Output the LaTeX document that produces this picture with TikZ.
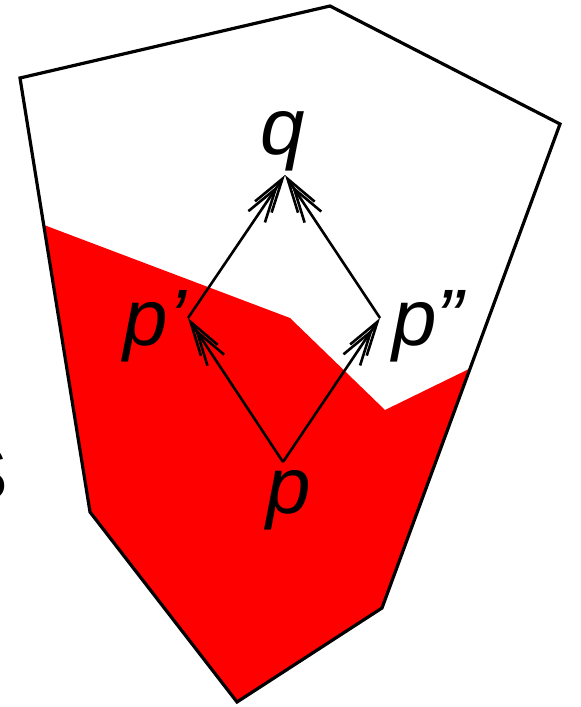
\documentclass[tikz,border=0pt]{standalone}
\usepackage{fontspec}
\setmainfont{Liberation Sans}
\usetikzlibrary{positioning,arrows.meta}
\definecolor{RegionRed}{RGB}{255,0,0}
\tikzset{
  outline/.style={draw=black,line width=3.2pt,line join=miter},
  flow/.style={-{Straight Barb[length=34pt,width=20pt,sep=-28pt]Straight Barb[length=34pt,width=20pt]},
    line width=2.6pt,draw=black},
  ptlabel/.style={font=\fontsize{80}{86}\selectfont\itshape,inner sep=0pt},
  setlabel/.style={font=\fontsize{76}{80}\selectfont,inner sep=0pt}
}
\begin{document}
\begin{tikzpicture}[x=1pt,y=-1pt]
  \useasboundingbox (0,0) rectangle (581,707);
  % reached part of the region
  \fill[RegionRed] (44,225) -- (290,318) -- (385,410) -- (471,368) -- (382,608)
    -- (237,702) -- (90,512) -- cycle;
  \draw[outline] (20,78) -- (330,6) -- (560,124) -- (382,608) -- (237,702)
    -- (90,512) -- cycle;
  \coordinate (p) at (283,462);
  \coordinate (pA) at (188,318);
  \coordinate (pB) at (380,318);
  \coordinate (q) at (285,175);
  \draw[flow] (p) -- (pA);
  \draw[flow] (p) -- (pB);
  \draw[flow] (pA) -- (q);
  \draw[flow] (pB) -- (q);
  \node[ptlabel,above=4pt of q,xshift=-2pt] (qlbl) {q};
  \node[ptlabel,below=8pt of p,xshift=6pt] (plbl) {p};
  \node[ptlabel,left=2pt of pA,yshift=-8pt] (pAlbl) {p’};
  \node[ptlabel,right=12pt of pB,yshift=-8pt] (pBlbl) {p”};
  \node[setlabel,anchor=base east] (set) at (8,500) {S};
\end{tikzpicture}
\end{document}
